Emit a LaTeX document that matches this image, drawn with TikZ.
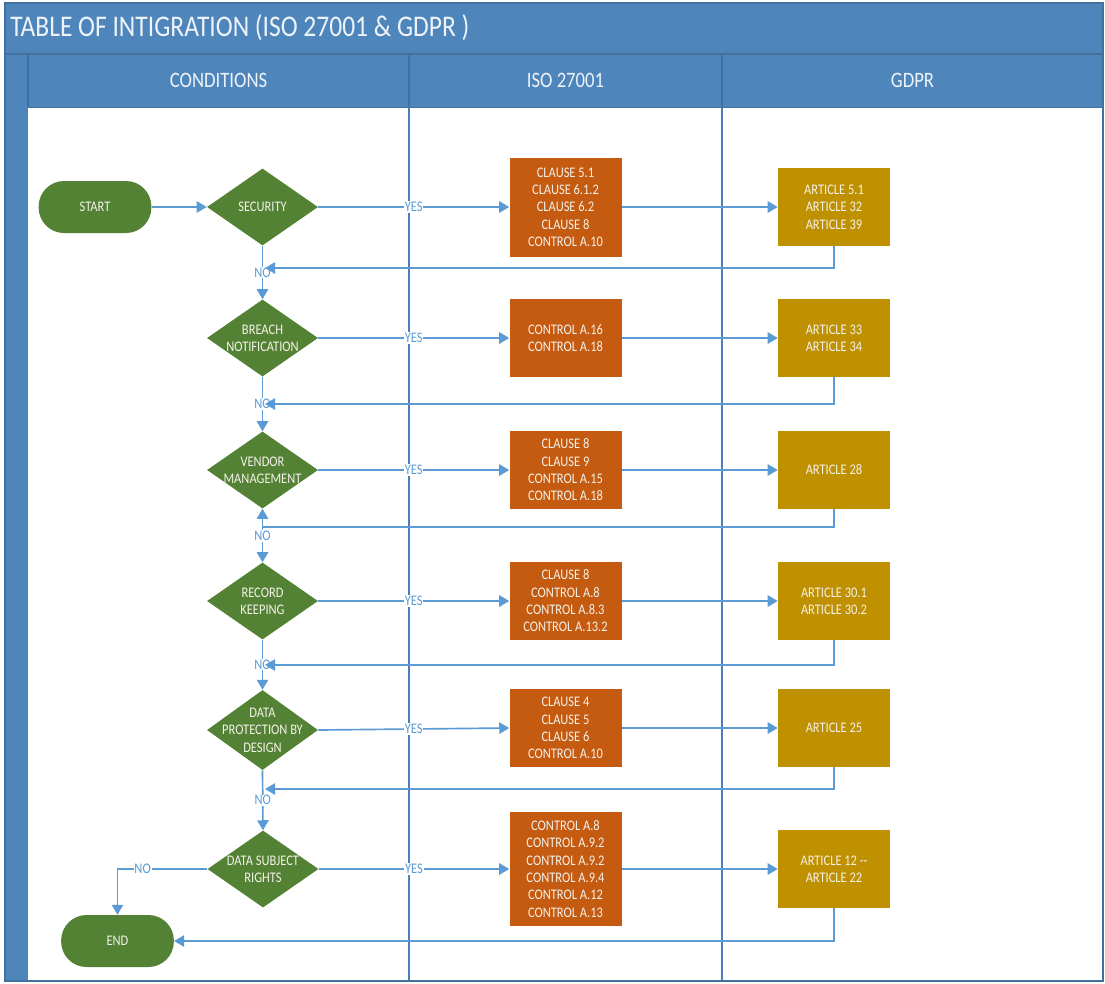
\documentclass[tikz,border=0pt]{standalone}
\usepackage{fontspec}
\setmainfont{Carlito}[FakeStretch=0.85]
\usetikzlibrary{shapes.geometric,arrows.meta}
\definecolor{hdr}{HTML}{4E86BC}
\definecolor{hdrline}{HTML}{41719C}
\definecolor{divl}{HTML}{4A7EBB}
\definecolor{conn}{HTML}{5B9BD5}
\definecolor{grn}{HTML}{548235}
\definecolor{orng}{HTML}{C55A11}
\definecolor{gold}{HTML}{BF9000}
\definecolor{ntext}{HTML}{F4F1E8}
\definecolor{htext}{HTML}{EEF3FA}
\newcommand\myfont{\fontsize{11pt}{13pt}\selectfont}
\tikzset{
  isobox/.style={rectangle, fill=orng, minimum width=84pt, text=ntext, font=\myfont, align=center, inner sep=0pt},
  gdbox/.style={rectangle, fill=gold, minimum width=84pt, minimum height=58.5pt, text=ntext, font=\myfont, align=center, inner sep=0pt},
  dia/.style={diamond, fill=grn, minimum width=83.25pt, minimum height=57.75pt, inner sep=0pt},
  dtext/.style={text=ntext, font=\myfont, align=center, inner sep=0pt},
  term/.style={rectangle, rounded corners=19pt, fill=grn, minimum width=84.5pt, minimum height=39pt, text=ntext, font=\myfont, inner sep=0pt},
  arr/.style={draw=conn, line width=1.25pt, -{Triangle[length=7.5pt,width=8.5pt]}},
  lbl/.style={text=conn, font=\myfont, fill=white, inner sep=0.6pt},
  hdrtxt/.style={text=htext, font=\fontsize{16.5pt}{19pt}\selectfont, inner sep=0pt}
}
\begin{document}
\begin{tikzpicture}[x=0.75pt,y=-0.75pt]
\useasboundingbox (0,0) rectangle (1105,983);
\fill[white] (0,0) rectangle (1105,983);
% frame
\fill[hdr] (5,3) rectangle (1103,107);
\fill[hdr] (5,54) rectangle (28,981);
\fill[white] (28,107) rectangle (1103,981);
\draw[hdrline, line width=0.9pt] (5,54) -- (1103,54);
\draw[hdrline, line width=0.9pt] (28,54) -- (28,107);
\draw[hdrline, line width=0.9pt] (409,54) -- (409,107);
\draw[hdrline, line width=0.9pt] (722,54) -- (722,107);
\draw[hdrline, line width=0.6pt] (28,107) -- (1103,107);
\draw[divl, line width=1pt] (409,107) -- (409,981);
\draw[divl, line width=1pt] (722,107) -- (722,981);
\draw[hdrline, line width=1pt] (5,3) rectangle (1103,981);
% title and headers
\node[anchor=west, text=htext, font=\fontsize{22.5pt}{27pt}\selectfont, inner sep=0pt] (title) at (10,28) {TABLE OF INTIGRATION (ISO 27001 \& GDPR )};
\node[hdrtxt] (h1) at (218.5,80) {CONDITIONS};
\node[hdrtxt] (h2) at (565.5,80) {ISO 27001};
\node[hdrtxt] (h3) at (912.5,80) {GDPR};
% terminals
\node[term] (start) at (95,207) {START};
\node[term] (end) at (117.5,941) {END};
% diamonds
\node[dia] (sec) at (262.5,207) {};
\node[dtext] (sect) at (sec) {SECURITY};
\node[dia] (breach) at (262.5,338) {};
\node[dtext] (breacht) at (breach) {BREACH\\NOTIFICATION};
\node[dia] (vendor) at (262.5,470) {};
\node[dtext] (vendort) at (vendor) {VENDOR\\MANAGEMENT};
\node[dia] (record) at (262.5,601) {};
\node[dtext] (recordt) at (record) {RECORD\\KEEPING};
\node[dia, minimum height=60pt] (dpd) at (262.5,730) {};
\node[dtext] (dpdt) at (dpd) {DATA\\PROTECTION BY\\DESIGN};
\node[dia] (dsr) at (263,869) {};
\node[dtext] (dsrt) at (dsr) {DATA SUBJECT\\RIGHTS};
% ISO boxes
\node[isobox, minimum height=74.25pt] (iso1) at (565.5,207) {CLAUSE 5.1\\CLAUSE 6.1.2\\CLAUSE 6.2\\CLAUSE 8\\CONTROL A.10};
\node[isobox, minimum height=58.5pt] (iso2) at (565.5,338) {CONTROL A.16\\CONTROL A.18};
\node[isobox, minimum height=58pt] (iso3) at (565.5,470) {CLAUSE 8\\CLAUSE 9\\CONTROL A.15\\CONTROL A.18};
\node[isobox, minimum height=58pt] (iso4) at (565.5,601) {CLAUSE 8\\CONTROL A.8\\CONTROL A.8.3\\CONTROL A.13.2};
\node[isobox, minimum height=58pt] (iso5) at (565.5,728) {CLAUSE 4\\CLAUSE 5\\CLAUSE 6\\CONTROL A.10};
\node[isobox, minimum height=85pt] (iso6) at (565.5,869) {CONTROL A.8\\CONTROL A.9.2\\CONTROL A.9.2\\CONTROL A.9.4\\CONTROL A.12\\CONTROL A.13};
% GDPR boxes
\node[gdbox] (gd1) at (834,207) {ARTICLE 5.1\\ARTICLE 32\\ARTICLE 39};
\node[gdbox] (gd2) at (834,338) {ARTICLE 33\\ARTICLE 34};
\node[gdbox] (gd3) at (834,470) {ARTICLE 28};
\node[gdbox] (gd4) at (834,601) {ARTICLE 30.1\\ARTICLE 30.2};
\node[gdbox] (gd5) at (834,728) {ARTICLE 25};
\node[gdbox] (gd6) at (834,869) {ARTICLE 12 -{}-\\ARTICLE 22};
% junction coordinates
\coordinate (j1) at (265,268);
\coordinate (j2) at (265,404);
\coordinate (j3) at (262.5,527);
\coordinate (j4) at (265,665);
\coordinate (j5) at (265,789);
% connectors
\draw[arr] (start) -- (sec);
\foreach \d/\i/\g in {sec/iso1/gd1, breach/iso2/gd2, vendor/iso3/gd3, record/iso4/gd4, dpd/iso5/gd5, dsr/iso6/gd6}{
  \draw[arr] (\d.east) -- node[lbl, pos=0.5] {YES} (\i.west);
  \draw[arr] (\i.east) -- (\g.west);
}
\draw[arr] (sec.south) -- node[lbl] {NO} (breach.north);
\draw[arr] (breach.south) -- node[lbl] {NO} (vendor.north);
\draw[arr] (vendor.south) -- node[lbl, pos=0.51] {NO} (record.north);
\draw[arr] (record.south) -- node[lbl] {NO} (dpd.north);
\draw[arr] (dpd.south) -- node[lbl, pos=0.5] {NO} (dsr.north);
\draw[arr] (dsr.west) -| node[lbl, pos=0.36] {NO} (end.north);
\draw[arr] (gd1.south) |- (j1);
\draw[arr] (gd2.south) |- (j2);
\draw[arr] (gd3.south) |- (j3) -- (vendor.south);
\draw[arr] (gd4.south) |- (j4);
\draw[arr] (gd5.south) |- (j5);
\draw[arr] (gd6.south) |- (end.east);
\end{tikzpicture}
\end{document}
